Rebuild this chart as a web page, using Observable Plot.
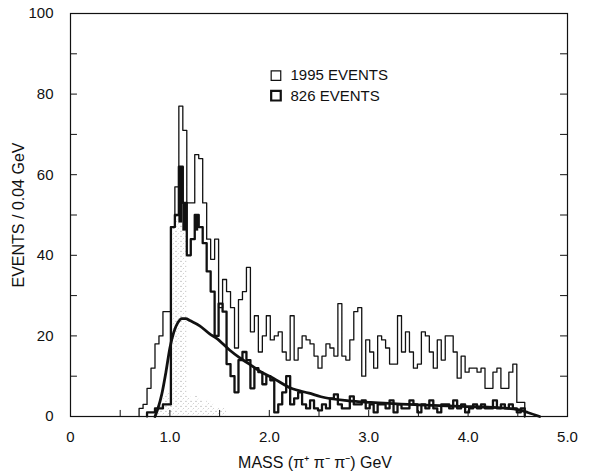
<!DOCTYPE html>
<html><head><meta charset="utf-8">
<script src="https://cdn.jsdelivr.net/npm/d3@7"></script>
<script src="https://cdn.jsdelivr.net/npm/@observablehq/plot@0.6"></script>
<style>
html,body{margin:0;padding:0;background:#fff;}
#chart svg{display:block;}
</style></head><body><div id="chart"></div>
<script>
// ---- data ----
const binWidth = 0.04;
const thinStart = 0.69; // 1995 events
const thinCounts = [2,3,7,12,18,20,26,26,47,57,77,71,53,53,65,64,53,44,39,44,27,34,31,27,17,29,31,37,21,25,16,20,25,
  19,20,21,16,14,25,14,17,20,19,18,15,12,15,18,17,15,28,15,14,19,26,27,10,19,16,12,20,19,17,13,13,25,16,21,16,12,13,
  21,20,16,12,19,14,20,20,16,9.5,15,11,12,12,11,12,7,7,11,12,7,7,11,13,3.5,3.5];
const thickStart = 0.77; // 826 events
const thickCounts = [1,1,2,2,3,3,47,50,62,53,40,44,50,47,43,36,31,20,28,26,13,10,6,14,16,14,7,12,11,8,10,9,1,3,6,10,
  3,4.5,6,3,2,4,2,1.5,3,2,4.5,5.5,3,2,2,5,3,3,
  4,2,3,1,3,3,2,4,1,3,2,2,4,3,1,3,2,4,2,1,3,3,2,4,2,3,1,2,3,2,3,2,2,4,2,3,2,3,2,1,2];
const blackBins = [1.09, 1.13, 1.25];
const blackLow = [48, 46, 46];
const blackHigh = [62, 53, 50];
const stippleBins = [1.01, 1.05, 1.09, 1.13];
const stippleTop = [47, 50, 48, 46];
const lowStippleStart = 0.85;
const lowStippleTop = [2,3,5,6,5,6,5,4,5,4,5,4,3,4,3,2,2,2];
const fitMass = [0.85,0.88,0.92,0.96,1.00,1.04,1.08,1.12,1.16,1.20,1.30,1.40,1.47,1.60,1.70,1.80,1.90,2.04,2.22,2.40,2.52,2.80,3.02,3.50,3.93,4.30,4.50,4.60,4.72];
const fitValue = [0,2,5.7,11,17,21,23.3,24.3,24.3,23.8,22.5,20.5,19.4,16.5,14.6,13,11.3,9.5,7,5.8,4.9,3.9,3.5,2.9,2.5,2.2,1.7,1.0,0];
const xLabelTicks = [0,1,2,3,4,5];
const xMinorTicks = [0.5,1,1.5,2,2.5,3,3.5,4,4.5];
const yLabelTicks = [0,20,40,60,80,100];
const yMinorTicks = [10,20,30,40,50,60,70,80,90];
const legendLabels = ["1995 EVENTS", "826 EVENTS"];

// ---- helpers ----
function steps(start, counts) {
  const pts = [{x: start, y: 0}];
  counts.forEach((c, i) => pts.push({x: start + i * binWidth, y: c}));
  pts.push({x: start + counts.length * binWidth, y: 0});
  return pts;
}
function stippleDefs() {
  const defs = d3.create("svg:defs");
  const p = defs.append("pattern").attr("id", "stip").attr("width", 5).attr("height", 5)
    .attr("patternUnits", "userSpaceOnUse");
  p.append("rect").attr("width", 5).attr("height", 5).attr("fill", "#fff");
  p.append("circle").attr("cx", 1).attr("cy", 1.2).attr("r", 0.55).attr("fill", "#888");
  p.append("circle").attr("cx", 3.6).attr("cy", 3.4).attr("r", 0.45).attr("fill", "#999");
  p.append("circle").attr("cx", 2.4).attr("cy", 4.5).attr("r", 0.35).attr("fill", "#bbb");
  return defs.node();
}
const lowBins = lowStippleTop.map((_, i) => lowStippleStart + i * binWidth);
const fit = fitMass.map((m, i) => ({x: m, y: fitValue[i]}));
const font = "'Liberation Sans', Arial, Helvetica, sans-serif";

const plot = Plot.plot({
  width: 591, height: 474,
  marginLeft: 70, marginRight: 24, marginTop: 13, marginBottom: 58,
  x: {domain: [0, 5]},
  y: {domain: [0, 100]},
  style: {fontFamily: font, fontSize: "15px", color: "#111", background: "#fff"},
  marks: [
    stippleDefs,
    Plot.rect(lowBins, {x1: d => d, x2: d => d + binWidth, y1: 0, y2: (d, i) => lowStippleTop[i], fill: "url(#stip)"}),
    Plot.rect(stippleBins, {x1: d => d, x2: d => d + binWidth, y1: 0, y2: (d, i) => stippleTop[i], fill: "url(#stip)"}),
    Plot.rect(blackBins, {x1: d => d, x2: d => d + binWidth, y1: (d, i) => blackLow[i], y2: (d, i) => blackHigh[i], fill: "#111"}),
    Plot.line(steps(thinStart, thinCounts), {x: "x", y: "y", curve: "step-after", stroke: "#111", strokeWidth: 1.3}),
    Plot.line(steps(thickStart, thickCounts), {x: "x", y: "y", curve: "step-after", stroke: "#111", strokeWidth: 2.3}),
    Plot.line(fit, {x: "x", y: "y", curve: "monotone-x", stroke: "#111", strokeWidth: 2.8}),
    Plot.frame({stroke: "#111", strokeWidth: 1.2}),
    Plot.ruleY(yMinorTicks, {y: d => d, x1: 0, x2: 0.07, stroke: "#111"}),
    Plot.ruleY(yMinorTicks, {y: d => d, x1: 4.93, x2: 5, stroke: "#111"}),
    Plot.ruleX(xMinorTicks, {x: d => d, y1: 0, y2: 1.5, stroke: "#111"}),
    Plot.axisY(yLabelTicks, {tickSize: 0, tickPadding: 17, fontSize: 15, label: null}),
    Plot.axisX(xLabelTicks, {tickSize: 0, tickPadding: 15, fontSize: 15, label: null,
      tickFormat: d => d === 0 ? "0" : d.toFixed(1)}),
    Plot.text(["MASS (\u03c0\u207a \u03c0\u207b \u03c0\u207b) GeV"], {frameAnchor: "bottom", lineAnchor: "middle", textAnchor: "middle",
      dy: 46, dx: -4, fontSize: 16, text: d => d, style: "letter-spacing:0.6px"}),
    Plot.text(["EVENTS / 0.04 GeV"], {frameAnchor: "left", textAnchor: "middle", lineAnchor: "middle",
      dx: -52, rotate: -90, fontSize: 16, text: d => d, style: "letter-spacing:0.6px"}),
    Plot.dot(legendLabels, {x: 2.067, y: (d, i) => [84.6, 79.6][i], symbol: "square", r: 5.4,
      stroke: "#111", fill: "none", strokeWidth: (d, i) => [1.2, 2.2][i]}),
    Plot.text(legendLabels, {x: 2.213, y: (d, i) => [84.6, 79.6][i], text: d => d, textAnchor: "start", fontSize: 15})
  ]
});
document.getElementById("chart").appendChild(plot);
</script>
</body></html>
